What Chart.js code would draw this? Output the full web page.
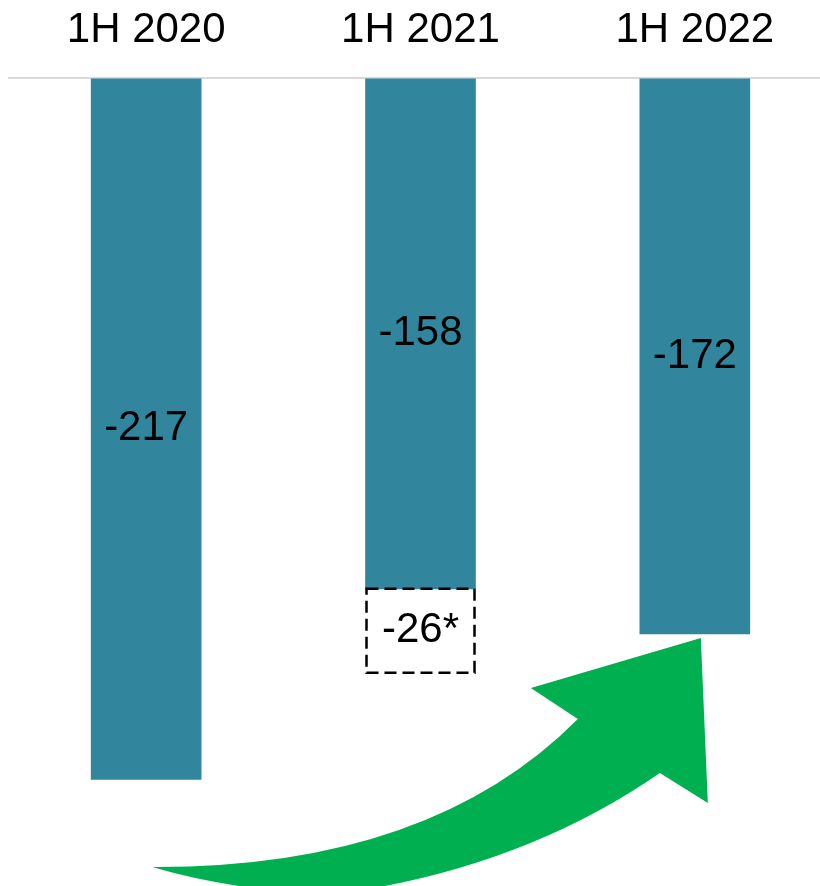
<!DOCTYPE html>
<html>
<head>
<meta charset="utf-8">
<script src="https://cdn.jsdelivr.net/npm/chart.js@4"></script>
<style>
  html, body { margin: 0; padding: 0; background: #fff; overflow: hidden; }
  #wrap { width: 832px; height: 886px; position: relative; }
</style>
</head>
<body>
<div id="wrap"><canvas id="barChart"></canvas></div>
<script>
const categories = ['1H 2020', '1H 2021', '1H 2022'];
const reported = [-217, -158, -172];
const oneOff = [null, -26, null];
const oneOffLabels = ['', '-26*', ''];

const barColor = '#31869E';
const arrowColor = '#00B050';
const labelFont = '42px "Liberation Sans", Arial, sans-serif';

// labels, dashed box and the green arrow
const overlay = {
    id: 'overlay',
    afterDatasetsDraw(chart) {
        const ctx = chart.ctx;
        ctx.save();

        // dashed outline for the one-off part
        const metaOff = chart.getDatasetMeta(1);
        metaOff.data.forEach(function (bar, i) {
            if (oneOff[i] == null) return;
            const p = bar.getProps(['x', 'y', 'base', 'width'], true);
            ctx.setLineDash([12, 6]);
            ctx.lineWidth = 2.5;
            ctx.strokeStyle = '#000';
            ctx.strokeRect(p.x - p.width / 2 + 1, p.base, p.width - 2, p.y - p.base);
            ctx.setLineDash([]);
            ctx.fillStyle = '#000';
            ctx.font = labelFont;
            ctx.textAlign = 'center';
            ctx.textBaseline = 'middle';
            ctx.fillText(oneOffLabels[i], p.x, (p.y + p.base) / 2);
        });

        // value labels in the middle of each bar
        const metaMain = chart.getDatasetMeta(0);
        metaMain.data.forEach(function (bar, i) {
            const p = bar.getProps(['x', 'y', 'base'], true);
            ctx.fillStyle = '#000';
            ctx.font = labelFont;
            ctx.textAlign = 'center';
            ctx.textBaseline = 'middle';
            ctx.fillText(String(reported[i]), p.x, (p.y + p.base) / 2);
        });
        ctx.restore();
    },
    afterDraw(chart) {
        const ctx = chart.ctx;
        const xs = chart.scales.x;
        const x0 = xs.getPixelForValue(0);
        const x2 = xs.getPixelForValue(2);
        const yb = chart.chartArea.bottom;
        const P = (dx, dy, base) => [base + dx, yb + dy];

        // curved arrow, anchored to first and last category
        const tail = P(6, -19, x0);
        const c1 = P(284, -18, x0);
        const notchTop = P(-117, -167, x2);
        const wingL = P(-164, -198, x2);
        const tip = P(6, -248, x2);
        const wingR = P(13, -83, x2);
        const notchBot = P(-35, -113, x2);
        const c2 = P(-175, -16, x2);
        const low = P(-365, 9, x2);
        const c3 = P(84, 4, x0);

        ctx.save();
        ctx.fillStyle = arrowColor;
        ctx.beginPath();
        ctx.moveTo(tail[0], tail[1]);
        ctx.quadraticCurveTo(c1[0], c1[1], notchTop[0], notchTop[1]);
        ctx.lineTo(wingL[0], wingL[1]);
        ctx.lineTo(tip[0], tip[1]);
        ctx.lineTo(wingR[0], wingR[1]);
        ctx.lineTo(notchBot[0], notchBot[1]);
        ctx.quadraticCurveTo(c2[0], c2[1], low[0], low[1]);
        ctx.quadraticCurveTo(c3[0], c3[1], tail[0], tail[1]);
        ctx.closePath();
        ctx.fill();
        ctx.restore();
    }
};

const ctx = document.getElementById('barChart').getContext('2d');
const chart = new Chart(ctx, {
    type: 'bar',
    data: {
        labels: categories,
        datasets: [{
            data: reported,
            backgroundColor: barColor,
            borderWidth: 0,
            barThickness: 110
        }, {
            data: oneOff,
            backgroundColor: 'rgba(0,0,0,0)',
            borderWidth: 0,
            barThickness: 110
        }]
    },
    options: {
        responsive: true,
        maintainAspectRatio: false,
        animation: false,
        layout: { padding: { top: -18, left: 9, right: 0, bottom: 0 } },
        plugins: {
            legend: { display: false },
            tooltip: { enabled: false }
        },
        scales: {
            x: {
                position: 'top',
                stacked: true,
                grid: { display: false, drawTicks: false },
                border: { display: true, color: '#d9d9d9', width: 2 },
                ticks: {
                    color: '#000',
                    padding: 23,
                    font: { family: '"Liberation Sans", Arial, sans-serif', size: 42 }
                }
            },
            y: {
                display: false,
                stacked: true,
                min: -250,
                max: 0
            }
        }
    },
    plugins: [overlay]
});
</script>
</body>
</html>
